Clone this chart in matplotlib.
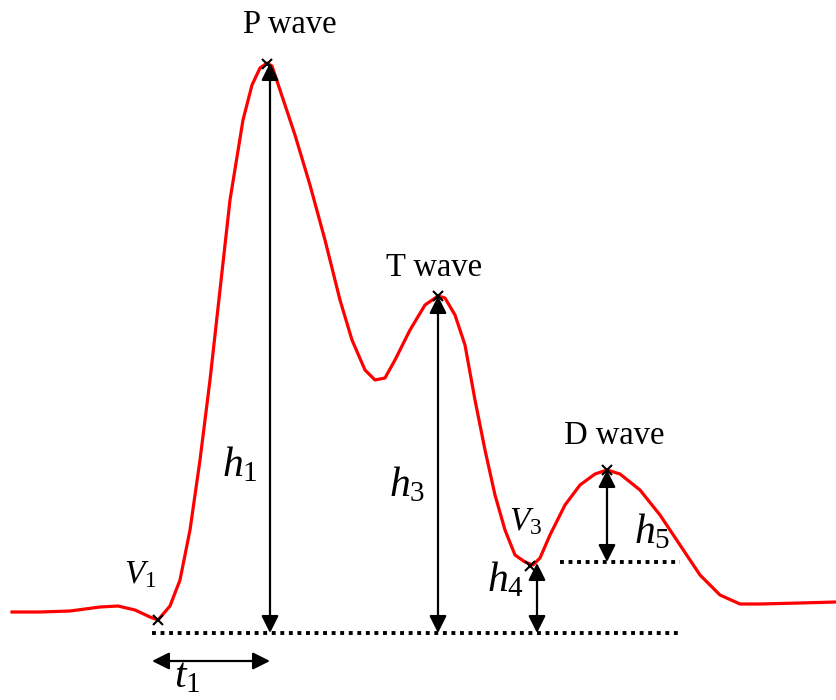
import matplotlib.pyplot as plt

plt.rcParams['mathtext.fontset'] = 'custom'
plt.rcParams['mathtext.rm'] = 'Liberation Serif'
plt.rcParams['mathtext.it'] = 'Liberation Serif:italic'
plt.rcParams['font.family'] = 'Liberation Serif'

# pulse waveform, traced in pixel units (x right, y down)
wave_x = [12, 40, 70, 100, 118, 135, 150, 158, 170, 180, 190, 200, 210, 220, 230,
          243, 252, 260, 267, 272, 280, 295, 310, 325, 340, 352, 365, 375, 385, 395,
          410, 425, 438, 445, 455, 465, 475, 485, 495, 505, 515, 525, 533, 540, 550,
          565, 580, 595, 607, 620, 640, 660, 680, 700, 720, 740, 760, 800, 836]
wave_y = [612, 612, 611, 607, 606, 610, 617, 620, 606, 580, 530, 460, 380, 290, 200,
          120, 85, 68, 63, 66, 90, 135, 185, 240, 300, 340, 370, 380, 378, 360,
          330, 305, 296, 298, 315, 345, 400, 450, 495, 530, 555, 562, 565, 558, 535,
          505, 485, 474, 470, 474, 490, 515, 545, 575, 595, 604, 604, 603, 602]

# feature points (V1, P, T, V3, D)
mark_x = [158, 267, 438, 530, 607]
mark_y = [620, 64, 296, 566, 470]

baseline = 633
v3_level = 562

# vertical height arrows: x, bottom, top
heights = {'h1': (270, baseline, 63), 'h3': (438, baseline, 296),
           'h4': (537, baseline, 563), 'h5': (607, v3_level, 470)}

fig = plt.figure(figsize=(8.36, 7.0), dpi=100)
ax = fig.add_axes([0, 0, 1, 1])
ax.set_xlim(0, 836)
ax.set_ylim(700, 0)
ax.axis('off')

ax.plot(wave_x, wave_y, color='#ff0000', lw=2.3, zorder=3)
ax.plot(mark_x, mark_y, 'x', color='black', ms=7, mew=1.5, zorder=4)

dots = dict(color='black', lw=2.8, linestyle=(0, (1.0, 1.2)), solid_capstyle='butt')
ax.plot([152, 680], [baseline, baseline], **dots)
ax.plot([560, 680], [v3_level, v3_level], **dots)

arrow = dict(arrowstyle='<|-|>', color='black', lw=1.6, mutation_scale=26,
             shrinkA=0, shrinkB=0)
for x, y0, y1 in heights.values():
    ax.annotate('', xy=(x, y1), xytext=(x, y0), arrowprops=arrow, zorder=5)
ax.annotate('', xy=(270, 661), xytext=(152, 661), arrowprops=arrow)

for text, x, y in [('P wave', 290, 25), ('T wave', 434, 268), ('D wave', 614, 436)]:
    ax.text(x, y, text, fontsize=23.5, ha='center', va='center')

big = dict(fontsize=30, ha='center', va='center')
ax.text(240, 465, r'$h_1$', **big)
ax.text(407, 485, r'$h_3$', **big)
ax.text(505, 580, r'$h_4$', **big)
ax.text(652, 532, r'$h_5$', **big)
ax.text(187, 677, r'$t_1$', **big)
ax.text(140, 575, r'$V_1$', fontsize=24, ha='center', va='center')
ax.text(526, 522, r'$V_3$', fontsize=24, ha='center', va='center')

fig.savefig('out.png', dpi=100)
